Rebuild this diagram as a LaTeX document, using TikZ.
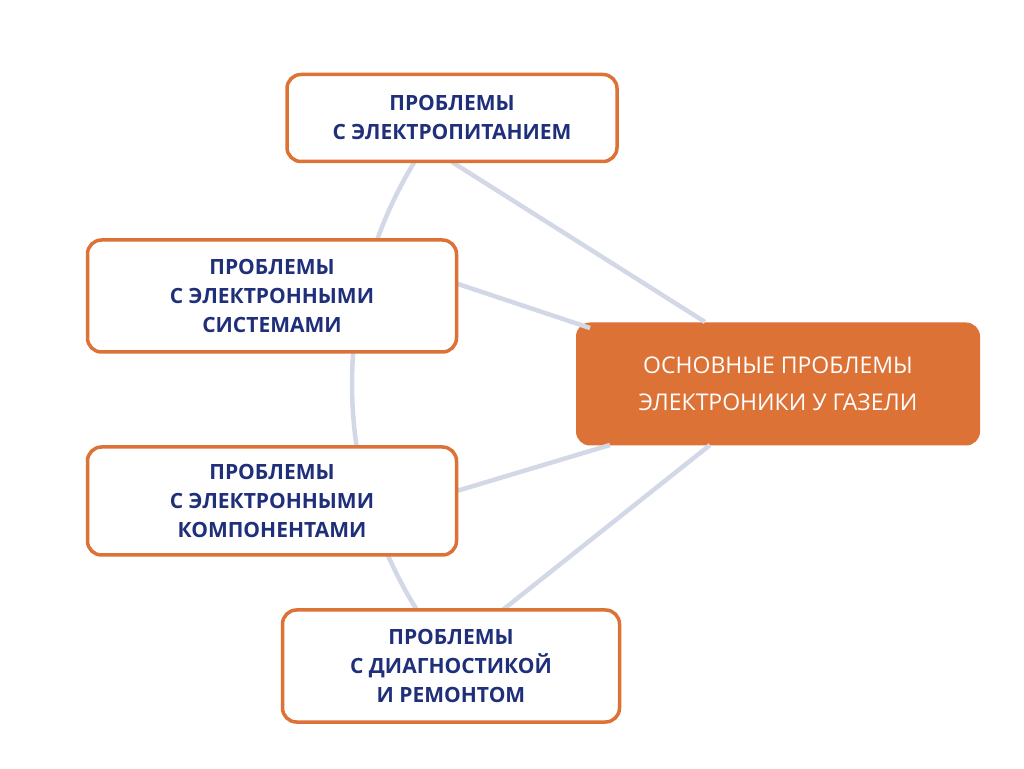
\documentclass[tikz,border=0pt]{standalone}
\usepackage{fontspec}
\setmainfont{Open Sans}
\usepackage{xcolor}
\usetikzlibrary{positioning}
\definecolor{boxorange}{HTML}{DD7236}
\definecolor{textblue}{HTML}{1F2F7A}
\definecolor{linkgray}{HTML}{D3D8E6}
\tikzset{
  topic/.style={draw=boxorange, line width=3.5pt, fill=white, rounded corners=14pt,
    align=center, text=textblue, font=\fontsize{21}{29}\selectfont\bfseries, inner sep=0pt},
  hub/.style={fill=boxorange, rounded corners=14pt, align=center, text=white,
    font=\fontsize{23}{37}\selectfont, inner sep=0pt},
  link/.style={linkgray, line width=4.5pt}
}
\begin{document}
\begin{tikzpicture}[x=1pt,y=1pt]
\useasboundingbox (0,0) rectangle (1024,768);
% central node
\node[hub, minimum width=404pt, minimum height=123pt] (main) at (778,384)
  {ОСНОВНЫЕ ПРОБЛЕМЫ\\ЭЛЕКТРОНИКИ У ГАЗЕЛИ};
% links behind the boxes
\draw[link] (main.center) ++(146:426) arc (146:214:426);
\coordinate (mtop) at (705,446);
\coordinate (msys) at (590,440);
\coordinate (mcomp) at (610,323);
\coordinate (mdiag) at (710,323);
\draw[link] (452,606) -- (mtop);
\draw[link] (440,490) -- (msys);
\draw[link] (440,272) -- (mcomp);
\draw[link] (480,140) -- (mdiag);
% topic boxes
\node[topic, minimum width=330pt, minimum height=87pt] (power) at (452,650)
  {ПРОБЛЕМЫ\\С ЭЛЕКТРОПИТАНИЕМ};
\node[topic, minimum width=369pt, minimum height=112pt] (sys) at (272,472)
  {ПРОБЛЕМЫ\\С ЭЛЕКТРОННЫМИ\\СИСТЕМАМИ};
\node[topic, minimum width=369pt, minimum height=108pt] (comp) at (272,267)
  {ПРОБЛЕМЫ\\С ЭЛЕКТРОННЫМИ\\КОМПОНЕНТАМИ};
\node[topic, minimum width=337pt, minimum height=112pt] (diag) at (451,102)
  {ПРОБЛЕМЫ\\С ДИАГНОСТИКОЙ\\И РЕМОНТОМ};
\end{tikzpicture}
\end{document}
